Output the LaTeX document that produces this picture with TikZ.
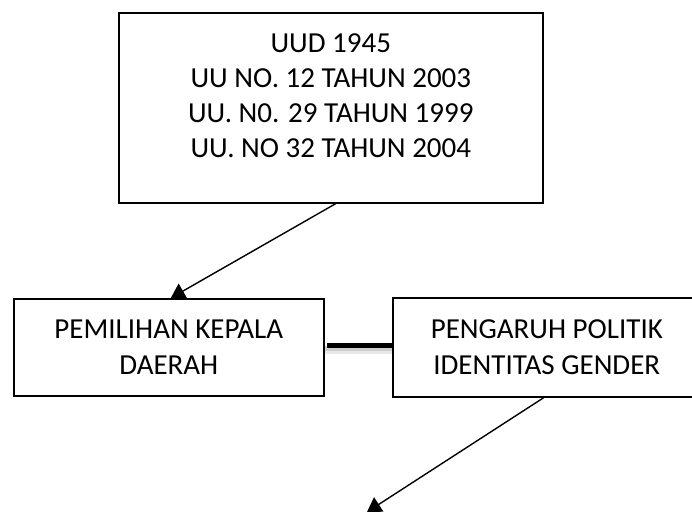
\documentclass[tikz,border=0pt]{standalone}
\usepackage{fontspec}
\setmainfont{Carlito}
\usepackage{tikz}
\usetikzlibrary{arrows.meta}
\tikzset{>={Triangle[length=14pt, width=17pt]}}
\definecolor{mygray1}{RGB}{232, 232, 232}
\definecolor{mygray2}{RGB}{205, 205, 205}

\begin{document}
\begin{tikzpicture}[
    x = 1pt, y = -1pt,
    box/.style = {draw, line width = 1.6pt, inner sep = 0pt, align = center, font = \fontsize{29}{36}\selectfont},
    d0/.style = {line width = 5.5pt},
    d1/.style = {->, line width = 1.4pt},
]

\useasboundingbox (0,0) rectangle (692,515);
\clip (0,0) rectangle (692,515);

\node[box, anchor = north west, minimum width = 424pt, minimum height = 190pt] (uu) at (118,12) {};
\node[anchor = north, inner sep = 0pt, align = center, font = \fontsize{29}{35}\selectfont] (uutext) at ([yshift=-21pt]uu.north)
{UUD 1945\\ UU NO. 12 TAHUN 2003\\ UU. N0. 29 TAHUN 1999\\ UU. NO 32 TAHUN 2004};

\node[box, anchor = north west, minimum width = 310pt, minimum height = 97pt] (pilkada) at (13,298) {PEMILIHAN KEPALA\\ DAERAH};
\node[box, anchor = north west, minimum width = 308pt, minimum height = 99pt] (gender) at (392,297) {PENGARUH POLITIK\\ IDENTITAS GENDER};

\coordinate (hasil) at (367,512);

% garis tebal antara dua kotak
\draw[d0, line width = 8pt, mygray1] ([yshift=-3pt]pilkada.east) -- ([yshift=-3pt]gender.west);
\draw[d0, line width = 5pt, mygray2] ([yshift=-1pt]pilkada.east) -- ([yshift=-1pt]gender.west);
\draw[d0, shorten <= 2pt] ([yshift=2pt]pilkada.east) -- ([yshift=2pt]gender.west);

\draw[d1] ([xshift=5pt]uu.south) -- ([xshift=2pt]pilkada.north);
\draw[d1] ([xshift=-3pt]gender.south) -- (hasil);

\end{tikzpicture}
\end{document}
